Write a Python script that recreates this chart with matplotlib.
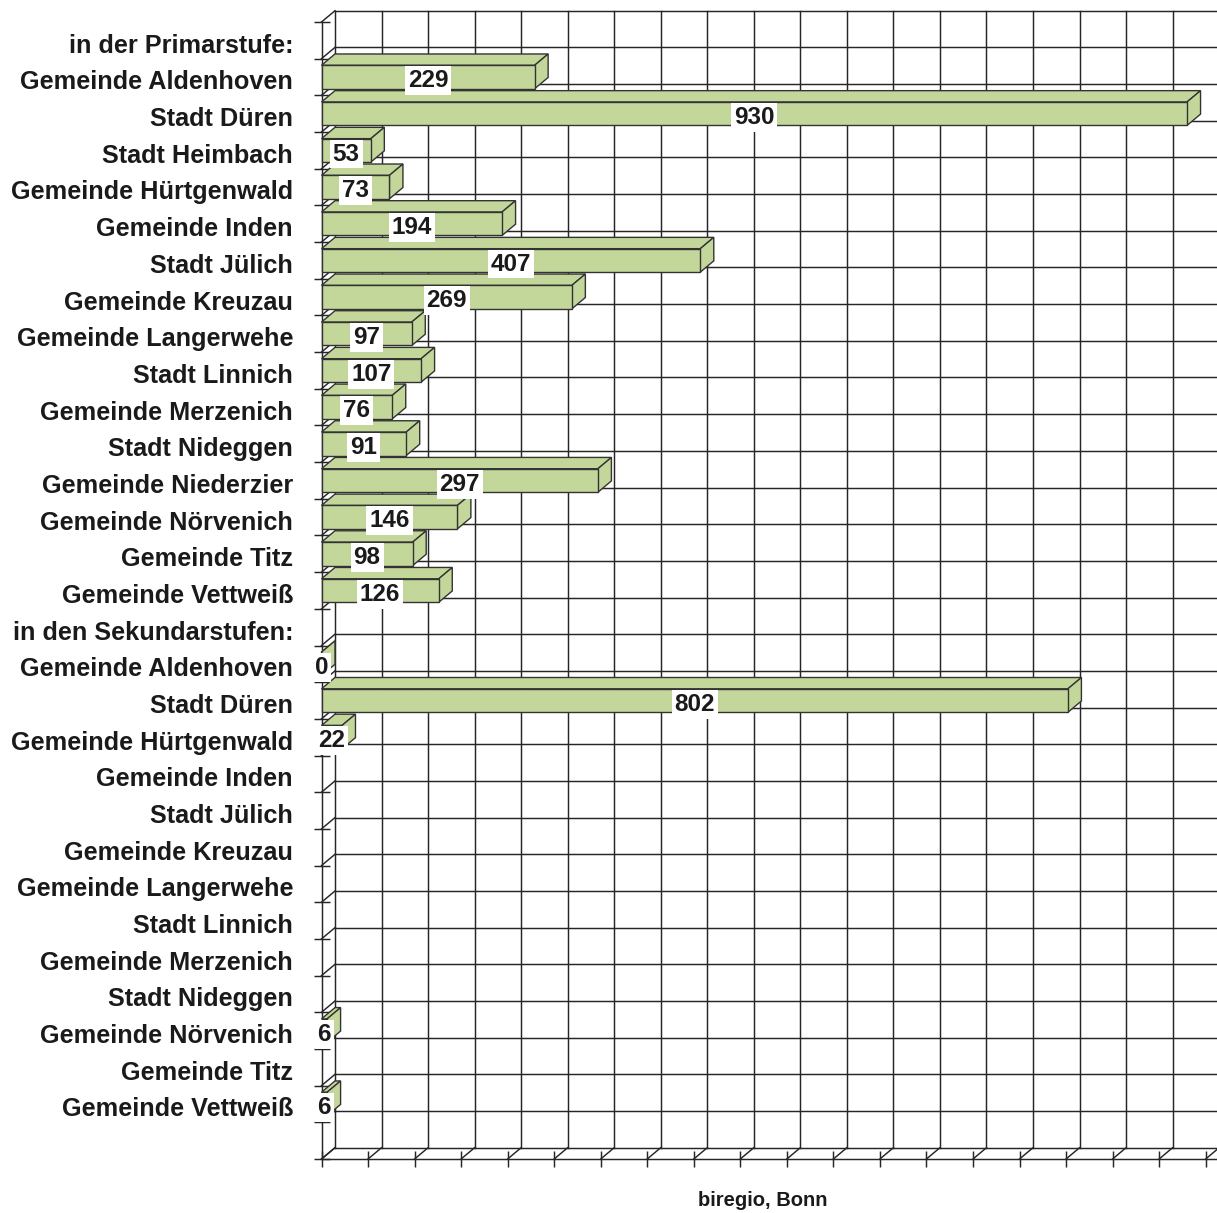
import numpy as np
import matplotlib
matplotlib.use("Agg")
import matplotlib.pyplot as plt
from matplotlib.patches import Polygon
from matplotlib.lines import Line2D

plt.rcParams['font.family'] = ['Liberation Sans', 'DejaVu Sans']

categories = ["in der Primarstufe:", "Gemeinde Aldenhoven", "Stadt Düren", "Stadt Heimbach",
              "Gemeinde Hürtgenwald", "Gemeinde Inden", "Stadt Jülich", "Gemeinde Kreuzau",
              "Gemeinde Langerwehe", "Stadt Linnich", "Gemeinde Merzenich", "Stadt Nideggen",
              "Gemeinde Niederzier", "Gemeinde Nörvenich", "Gemeinde Titz", "Gemeinde Vettweiß",
              "in den Sekundarstufen:", "Gemeinde Aldenhoven", "Stadt Düren", "Gemeinde Hürtgenwald",
              "Gemeinde Inden", "Stadt Jülich", "Gemeinde Kreuzau", "Gemeinde Langerwehe",
              "Stadt Linnich", "Gemeinde Merzenich", "Stadt Nideggen", "Gemeinde Nörvenich",
              "Gemeinde Titz", "Gemeinde Vettweiß", ""]
nan = np.nan
values = [nan, 229, 930, 53, 73, 194, 407, 269, 97, 107, 76, 91, 297, 146, 98, 126,
          nan, 0, 802, 22, nan, nan, nan, nan, nan, nan, nan, 6, nan, 6, nan]
x_ticks = list(range(0, 1001, 50))
source = "biregio, Bonn"

W, H = 1217, 1213
fig = plt.figure(figsize=(W / 100, H / 100), dpi=100)
px_per_unit = 0.9307
left_px, top_px, bot_px = 321.5, 22.0, 1159.0
ax = fig.add_axes([left_px / W, (H - bot_px) / H, 1000 * px_per_unit / W, (bot_px - top_px) / H])

n = len(categories)
ax.set_xlim(0, 1000)
ax.set_ylim(n - 0.5, -0.5)

slot_px = (bot_px - top_px) / n
DX = 13.5 / px_per_unit
DY = 11.3 / slot_px

line_col = '#262626'
lw = 1.05
ymin, ymax = -0.5, n - 0.5
bounds = np.arange(n + 1) - 0.5

# back wall horizontal gridlines + left wall diagonals
for b in bounds:
    ax.add_line(Line2D([DX, 1000 + DX + 50], [b - DY, b - DY], color=line_col, lw=lw, clip_on=False, zorder=1))
    ax.add_line(Line2D([0, DX], [b, b - DY], color=line_col, lw=lw, clip_on=False, zorder=1))
# back wall vertical gridlines + floor diagonals
for v in x_ticks:
    ax.add_line(Line2D([v + DX, v + DX], [ymin - DY, ymax - DY], color=line_col, lw=lw, clip_on=False, zorder=1))
    ax.add_line(Line2D([v, v + DX], [ymax, ymax - DY], color=line_col, lw=lw, clip_on=False, zorder=1))

bar_col = '#C4D79B'
edge_col = '#333333'
h = 0.32
for i, v in enumerate(values):
    if np.isnan(v):
        continue
    top = Polygon([(0, i - h), (v, i - h), (v + DX, i - h - DY), (DX, i - h - DY)],
                  closed=True, facecolor=bar_col, edgecolor=edge_col, lw=1.0, clip_on=False, zorder=3)
    side = Polygon([(v, i - h), (v + DX, i - h - DY), (v + DX, i + h - DY), (v, i + h)],
                   closed=True, facecolor=bar_col, edgecolor=edge_col, lw=1.0, clip_on=False, zorder=3)
    front = Polygon([(0, i - h), (v, i - h), (v, i + h), (0, i + h)],
                    closed=True, facecolor=bar_col, edgecolor=edge_col, lw=1.0, clip_on=False, zorder=4)
    for p in (top, side, front):
        ax.add_patch(p)
    ax.text(v / 2, i + 0.1, f"{int(v)}", ha='center', va='center', fontsize=17.5, fontweight='bold',
            color='#1a1a1a', zorder=6, clip_on=False,
            bbox=dict(boxstyle='square,pad=0.12', facecolor='white', edgecolor='none'))

# axes styling
for s in ('top', 'right'):
    ax.spines[s].set_visible(False)
for s in ('left', 'bottom'):
    ax.spines[s].set_color(line_col)
    ax.spines[s].set_linewidth(lw)
    ax.spines[s].set_zorder(2)
ax.patch.set_visible(False)

ax.set_yticks(np.arange(n) + 0.08)
ax.set_yticklabels(categories)
ax.set_yticks(bounds, minor=True)
ax.tick_params(axis='y', which='major', length=0, pad=20.5, labelsize=18.2)
ax.tick_params(axis='y', which='minor', direction='inout', length=12, width=lw, color=line_col)
for t in ax.get_yticklabels():
    t.set_fontweight('bold')
    t.set_color('#1a1a1a')
    t.set_verticalalignment('center_baseline')

ax.set_xticks(x_ticks)
ax.set_xticklabels([])
ax.tick_params(axis='x', which='major', direction='inout', length=11.5, width=lw, color=line_col)

fig.text(763 / W, 1 - 1200 / H, source, ha='center', va='center', fontsize=14.5,
         fontweight='bold', color='#1a1a1a')

fig.savefig("out.png", dpi=100)
